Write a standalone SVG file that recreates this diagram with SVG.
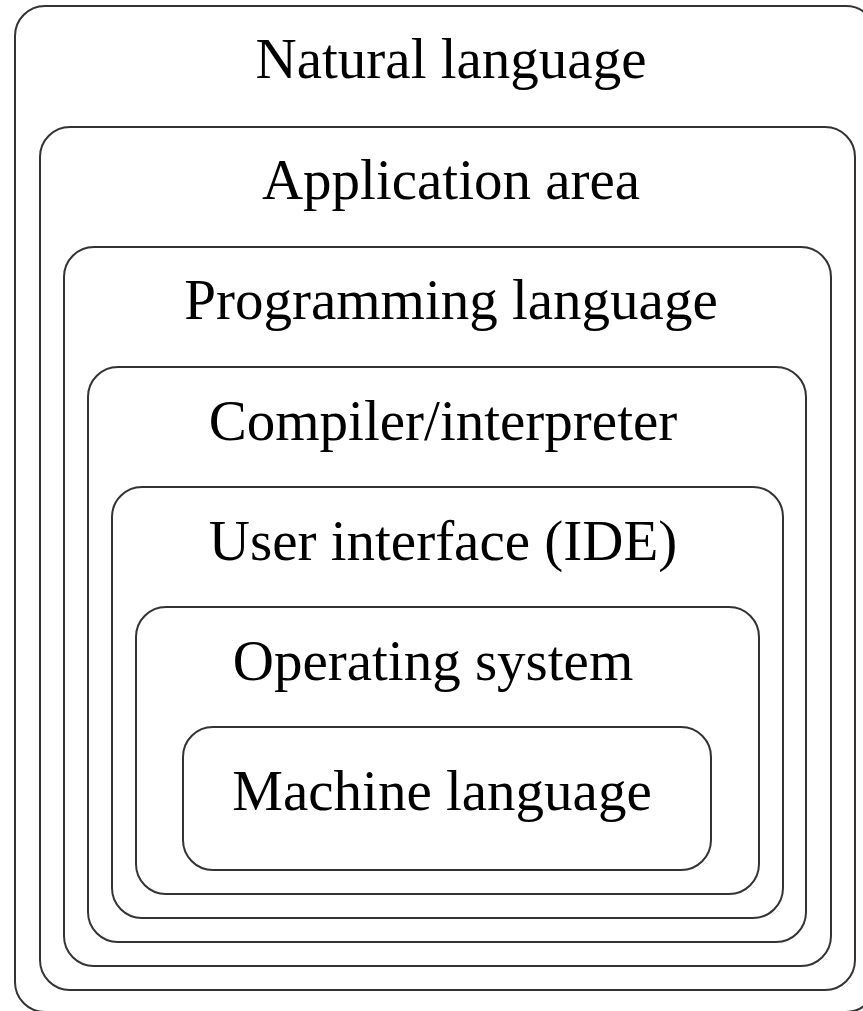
<svg xmlns="http://www.w3.org/2000/svg" width="863" height="1011" viewBox="0 0 863 1011">
<style>
.box{fill:none;stroke:#333;stroke-width:2}
.lbl{font-family:"Liberation Serif","Times New Roman",serif;font-size:57px;fill:#000;text-anchor:middle}
</style>
<rect width="863" height="1011" fill="#fff"/>
<g id="natural-language">
<rect class="box" x="15" y="6" width="861" height="1006" rx="30" ry="30"/>
<text class="lbl" x="451" y="78">Natural language</text>
</g>
<g id="application-area">
<rect class="box" x="40" y="127" width="815" height="863" rx="30" ry="30"/>
<text class="lbl" x="451" y="199">Application area</text>
</g>
<g id="programming-language">
<rect class="box" x="64" y="247" width="767" height="719" rx="30" ry="30"/>
<text class="lbl" x="451" y="319">Programming language</text>
</g>
<g id="compiler-interpreter">
<rect class="box" x="88" y="367" width="718" height="575" rx="30" ry="30"/>
<text class="lbl" x="443" y="440">Compiler/interpreter</text>
</g>
<g id="user-interface">
<rect class="box" x="112" y="487" width="671" height="431" rx="30" ry="30"/>
<text class="lbl" x="443" y="560">User interface (IDE)</text>
</g>
<g id="operating-system">
<rect class="box" x="136" y="607" width="623" height="287" rx="30" ry="30"/>
<text class="lbl" x="433" y="680">Operating system</text>
</g>
<g id="machine-language">
<rect class="box" x="183" y="727" width="528" height="143" rx="30" ry="30"/>
<text class="lbl" x="442" y="810">Machine language</text>
</g>
<g id="connectors"></g>
</svg>
